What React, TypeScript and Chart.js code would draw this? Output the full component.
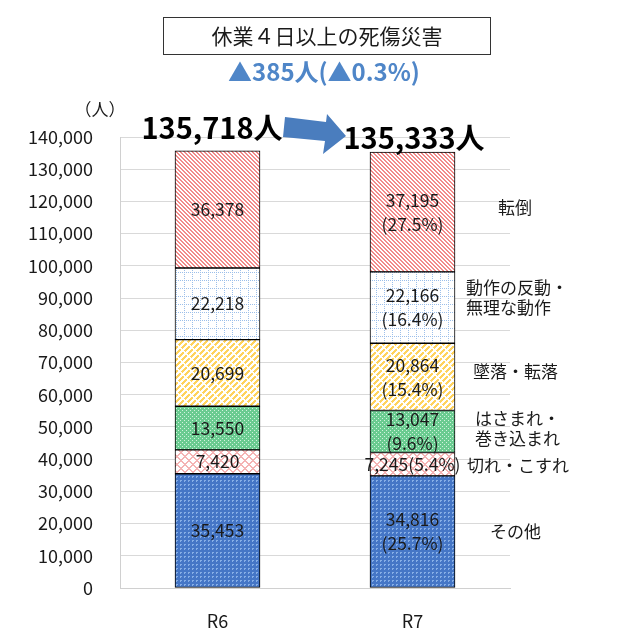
import React, { useEffect, useRef } from 'react';
import { Chart, registerables } from 'chart.js';
Chart.register(...registerables);

const categories = ['R6', 'R7'];
const seriesNames = ['その他', '切れ・こすれ', 'はさまれ・巻き込まれ', '墜落・転落', '動作の反動・無理な動作', '転倒'];
const sonota = [35453, 34816];
const kire = [7420, 7245];
const hasamare = [13550, 13047];
const tsuiraku = [20699, 20864];
const dousa = [22218, 22166];
const tentou = [36378, 37195];
const r7Percent = ['25.7%', '5.4%', '9.6%', '15.4%', '16.4%', '27.5%'];
const totalLabels = ['135,718人', '135,333人'];
const sideLabels = [['その他'], ['切れ・こすれ'], ['はさまれ・', '巻き込まれ'], ['墜落・転落'], ['動作の反動・', '無理な動作'], ['転倒']];
const titleText = '休業４日以上の死傷災害';
const changeText = '▲385人(▲0.3%)';
const unitText = '（人）';
const yMin = 0;
const yMax = 140000;
const yStep = 10000;

const JP = '"Noto Sans CJK JP", "Noto Sans", sans-serif';

function makePattern(size: number, bg: string, fg: string, test: (x: number, y: number) => boolean) {
  const c = document.createElement('canvas');
  c.width = size;
  c.height = size;
  const ctx = c.getContext('2d')!;
  ctx.fillStyle = bg;
  ctx.fillRect(0, 0, size, size);
  ctx.fillStyle = fg;
  for (let y = 0; y < size; y++) {
    for (let x = 0; x < size; x++) {
      if (test(x, y)) ctx.fillRect(x, y, 1, 1);
    }
  }
  return ctx.createPattern(c, 'repeat')!;
}

const mod = (a: number, n: number) => ((a % n) + n) % n;

export default function App() {
  const ref = useRef<HTMLCanvasElement>(null);
  useEffect(() => {
    const canvas = ref.current!;
    const patterns = [
      // その他: blue fine dots
      makePattern(4, '#4576C6', '#86AEE6', (x, y) => x < 2 && y < 2 && !(x === 1 && y === 1)),
      // 切れ: pink diamond lattice
      makePattern(8, '#FFFFFF', '#F4B4B4', (x, y) => mod(x + y, 8) < 2 || mod(x - y, 8) < 2),
      // はさまれ: green with white dots
      makePattern(4, '#6ACB90', '#D2F2DE', (x, y) => (x === 0 && y === 0) || (x === 2 && y === 2)),
      // 墜落: yellow brick diagonal
      makePattern(12, '#FFFFFF', '#FFD35E', (x, y) => mod(x + y, 6) < 3 && mod(x - y, 12) >= 2),
      // 動作: blue dotted grid
      makePattern(8, '#FFFFFF', '#9CBFEA', (x, y) => (x === 0 && y % 2 === 0) || (y === 0 && x % 2 === 0)),
      // 転倒: red diagonal stripes
      makePattern(4, '#FFFFFF', '#F28A8A', (x, y) => mod(x - y, 4) < 2),
    ];
    const values = [sonota, kire, hasamare, tsuiraku, dousa, tentou];

    const overlay = {
      id: 'overlay',
      afterDatasetsDraw(chart: any) {
        const ctx = chart.ctx;
        const ys = chart.scales.y;
        ctx.save();
        ctx.fillStyle = '#1a1a1a';
        ctx.textAlign = 'center';
        ctx.textBaseline = 'middle';
        ctx.font = `17.5px ${JP}`;
        chart.data.datasets.forEach((ds: any, di: number) => {
          const meta = chart.getDatasetMeta(di);
          meta.data.forEach((el: any, i: number) => {
            const v = ds.data[i];
            const mid = (el.y + el.base) / 2;
            const txt = v.toLocaleString('en-US');
            if (i === 0) {
              ctx.fillText(txt, el.x, mid);
            } else {
              const h = Math.abs(el.base - el.y);
              if (h < 35) {
                ctx.fillText(`${txt}(${r7Percent[di]})`, el.x, mid);
              } else {
                ctx.fillText(txt, el.x, mid - 12);
                ctx.fillText(`(${r7Percent[di]})`, el.x, mid + 12);
              }
            }
          });
        });
        // side labels next to R7
        const sideX = [490, 467, 475, 473, 466, 498];
        const sideDy = [0, 1, -3, -5, -10, -4];
        ctx.textAlign = 'left';
        ctx.font = `17px ${JP}`;
        let cum = 0;
        values.forEach((arr, di) => {
          const lo = cum;
          cum += arr[1];
          const mid = ys.getPixelForValue((lo + cum) / 2) + sideDy[di];
          const lines = sideLabels[di];
          const lh = 20;
          lines.forEach((ln, k) => {
            ctx.fillText(ln, sideX[di], mid + (k - (lines.length - 1) / 2) * lh);
          });
        });
        ctx.restore();
      },
      afterDraw(chart: any) {
        const ctx = chart.ctx;
        ctx.save();
        // title box
        ctx.strokeStyle = '#333';
        ctx.lineWidth = 1;
        ctx.strokeRect(163.5, 17.5, 327, 37);
        ctx.fillStyle = '#1a1a1a';
        ctx.textAlign = 'center';
        ctx.textBaseline = 'middle';
        ctx.font = `21px ${JP}`;
        ctx.fillText(titleText, 327, 36);
        ctx.fillStyle = '#4F86C8';
        ctx.font = `bold 24px ${JP}`;
        ctx.fillText(changeText, 324, 72);
        // unit
        ctx.fillStyle = '#1a1a1a';
        ctx.font = `17px ${JP}`;
        ctx.fillText(unitText, 100, 110);
        // arrow
        ctx.fillStyle = '#4A7DBE';
        ctx.beginPath();
        ctx.moveTo(285, 117);
        ctx.lineTo(326, 122);
        ctx.lineTo(327, 114);
        ctx.lineTo(346, 136);
        ctx.lineTo(323, 154);
        ctx.lineTo(325, 141);
        ctx.lineTo(283, 137);
        ctx.closePath();
        ctx.fill();
        // totals
        ctx.fillStyle = '#000';
        ctx.font = `bold 29px ${JP}`;
        ctx.fillText(totalLabels[0], 212, 128);
        ctx.fillText(totalLabels[1], 414, 138);
        ctx.restore();
      },
    };

    const chart = new Chart(canvas, {
      type: 'bar',
      data: {
        labels: categories,
        datasets: values.map((arr, i) => ({
          label: seriesNames[i],
          data: arr,
          backgroundColor: patterns[i] as any,
          borderColor: '#000',
          borderWidth: 1,
          borderSkipped: false,
          barThickness: 85,
        })),
      },
      options: {
        animation: false,
        responsive: false,
        layout: { padding: { left: 0, top: 137, right: 130, bottom: 0 } },
        plugins: { legend: { display: false }, tooltip: { enabled: false }, title: { display: false } },
        scales: {
          x: {
            stacked: true,
            grid: { display: false, drawTicks: false },
            border: { display: true, color: '#d0d0d0' },
            ticks: { color: '#1a1a1a', font: { family: JP, size: 18 }, padding: 22 },
            afterFit: (s: any) => { s.height = 47; },
          },
          y: {
            stacked: true,
            min: yMin,
            max: yMax,
            grid: { color: '#d9d9d9', drawTicks: false },
            border: { display: true, color: '#d0d0d0' },
            ticks: {
              stepSize: yStep,
              color: '#1a1a1a',
              font: { family: JP, size: 18 },
              padding: 27,
              callback: (v: any) => Number(v).toLocaleString('en-US'),
            },
            afterFit: (s: any) => { s.width = 120; },
          },
        },
      },
      plugins: [overlay],
    });
    return () => chart.destroy();
  }, []);
  return (
    <div style={{ position: 'absolute', left: 0, top: 0, width: 640, height: 635, background: '#fff' }}>
      <canvas ref={ref} width={640} height={635} />
    </div>
  );
}
